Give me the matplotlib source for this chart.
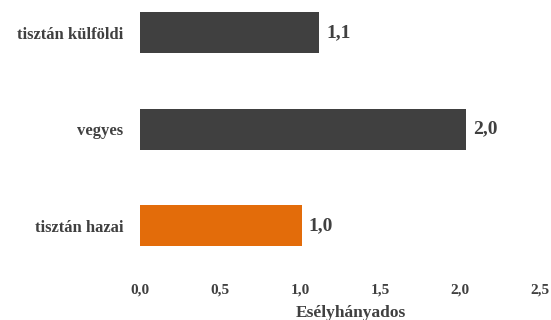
import matplotlib
matplotlib.use("Agg")
import matplotlib.pyplot as plt

categories = ["tisztán hazai", "vegyes", "tisztán külföldi"]
values = [1.01, 2.04, 1.12]
colors = ["#E36C0A", "#404040", "#404040"]
xticks = [0.0, 0.5, 1.0, 1.5, 2.0, 2.5]
xlabel = "Esélyhányados"

plt.rcParams["font.family"] = ["Liberation Serif", "DejaVu Serif"]
txt = "#404040"

fig = plt.figure(figsize=(5.51, 3.2), dpi=100)
ax = fig.add_axes([140/551, 45/320, 400/551, 275/320])
y = list(range(len(categories)))
ax.barh(y, values, height=0.425, color=colors)
for yi, v in zip(y, values):
    ax.text(v + 0.045, yi, f"{v:.1f}".replace(".", ","), va="center", ha="left",
            fontsize=14, fontweight="bold", color=txt)
ax.set_xlim(0, 2.5)
ax.set_ylim(-0.513, 2.337)
ax.set_yticks(y)
ax.set_yticklabels(categories, fontsize=12, fontweight="bold", color=txt)
ax.set_xticks(xticks)
ax.set_xticklabels([f"{t:.1f}".replace(".", ",") for t in xticks], fontsize=11,
                   fontweight="bold", color=txt)
ax.tick_params(axis="both", length=0)
ax.tick_params(axis="y", pad=12)
ax.tick_params(axis="x", pad=6)
ax.set_xlabel(xlabel, fontsize=12.5, fontweight="bold", color=txt, labelpad=0)
ax.xaxis.set_label_coords(0.528, -0.108, transform=ax.transAxes)
for s in ax.spines.values():
    s.set_visible(False)
fig.savefig("out.png", dpi=100)
